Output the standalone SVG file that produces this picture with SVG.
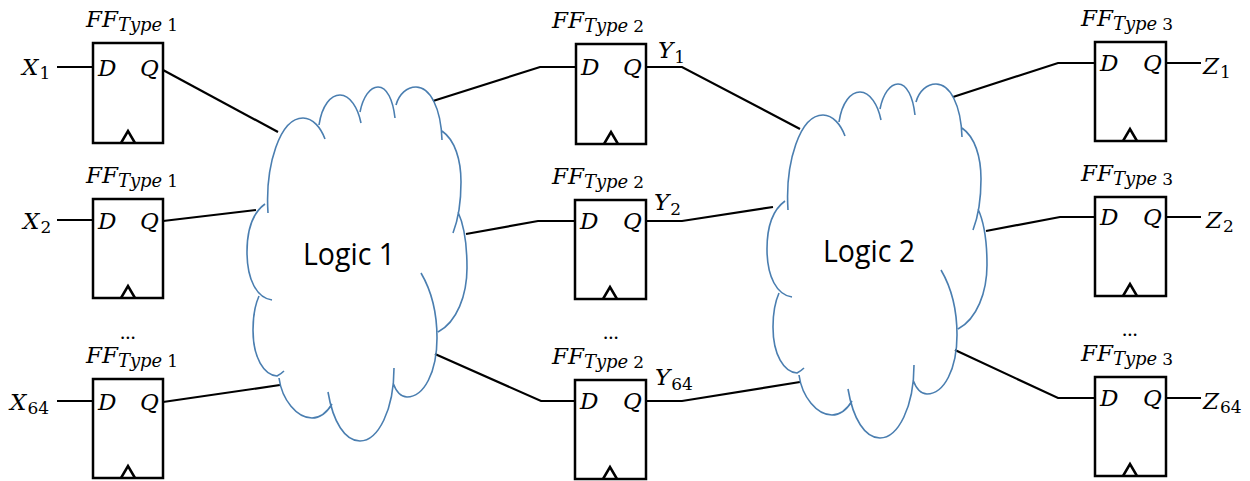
<svg xmlns="http://www.w3.org/2000/svg" xmlns:xlink="http://www.w3.org/1999/xlink" width="1250" height="481" viewBox="0 0 1250 481">
<style>
.box{fill:#fff;stroke:#000;stroke-width:2.5}
.clk{fill:none;stroke:#000;stroke-width:2.5;stroke-linejoin:miter}
.w{fill:none;stroke:#000;stroke-width:2.2}
.cloud{fill:none;stroke:#4a7eb0;stroke-width:1.6}
.m{font-family:"DejaVu Serif",serif;font-style:italic;font-size:23px;fill:#000}
.s{font-size:18px}
.n{font-style:normal;font-size:17px}
.dots{font-family:"Liberation Serif",serif;font-size:21px;fill:#000}
.lg{font-family:"Open Sans",sans-serif;font-size:31px;fill:#000}
</style>
<defs>
<path id="cloudShape" d="M268,213 C265,165 280,118 303,118 C313,118 321,128 325,139
M319,125 C322,105 331,95 340,95 C350,95 358,108 361,123
M360,112 C363,97 370,87 378,87 C387,87 393,100 395,118
M396,105 C399,94 407,87 416,87 C430,87 441,108 442,140
M442,131 C455,140 461,160 461,182 C461,203 458,220 453,233
M458,212 C464,225 467,245 467,268 C467,295 457,322 438,332
M421,273 C431,290 437,312 437,338 C437,372 424,397 407,397 C400,397 396,391 393,383
M394,368 C394,410 378,441 360,441 C345,441 333,422 328,392
M332,404 C326,414 320,418 312,418 C297,418 282,400 279,378
M259,296 C255,305 253,318 253,330 C253,358 264,375 277,376 C279,375 282,373 284,371
M265,204 C254,212 247,228 247,252 C247,280 257,298 272,300"/>
</defs>

<g id="connectors">
<path class="w" d="M57,67 H93"/>
<path class="w" d="M57,220 H93"/>
<path class="w" d="M57,401 H93"/>
<path class="w" d="M163,70 L278,132"/>
<path class="w" d="M163,221 L256,210"/>
<path class="w" d="M163,402 L280,385"/>
<path class="w" d="M433,101 L540,67 H576"/>
<path class="w" d="M466,234 L538,221 H575"/>
<path class="w" d="M435,354 L541,401 H575"/>
<path class="w" d="M646,67 H682 L800,129"/>
<path class="w" d="M646,221 H682 L773,207"/>
<path class="w" d="M646,401 H682 L800,382"/>
<path class="w" d="M953,97 L1058,63 H1095"/>
<path class="w" d="M986,231 L1060,217 H1095"/>
<path class="w" d="M955,350 L1058,398 H1095"/>
<path class="w" d="M1166,63 H1201"/>
<path class="w" d="M1166,217 H1201"/>
<path class="w" d="M1166,398 H1201"/>
</g>

<g id="logic1">
<use xlink:href="#cloudShape" class="cloud"/>
<text class="lg" x="303" y="265" textLength="92" lengthAdjust="spacingAndGlyphs">Logic 1</text>
</g>
<g id="logic2">
<use xlink:href="#cloudShape" class="cloud" transform="translate(520,-3)"/>
<text class="lg" x="823" y="262" textLength="92" lengthAdjust="spacingAndGlyphs">Logic 2</text>
</g>

<!-- Column 1 -->
<g id="ff1_1">
<rect class="box" x="93" y="43" width="70" height="100"/>
<path class="clk" d="M121,143 L128,131 L135,143"/>
<text class="m" x="98" y="76">D</text><text class="m" x="140" y="76">Q</text>
<text class="m" x="86" y="27">FF<tspan class="s" dy="4">Type</tspan><tspan class="n" dx="5">1</tspan></text>
</g>
<g id="ff1_2">
<rect class="box" x="93" y="199" width="70" height="99"/>
<path class="clk" d="M121,298 L128,286 L135,298"/>
<text class="m" x="98" y="229">D</text><text class="m" x="140" y="229">Q</text>
<text class="m" x="86" y="183">FF<tspan class="s" dy="4">Type</tspan><tspan class="n" dx="5">1</tspan></text>
</g>
<g id="ff1_3">
<rect class="box" x="93" y="379" width="70" height="99"/>
<path class="clk" d="M121,478 L128,466 L135,478"/>
<text class="m" x="98" y="410">D</text><text class="m" x="140" y="410">Q</text>
<text class="m" x="86" y="363">FF<tspan class="s" dy="4">Type</tspan><tspan class="n" dx="5">1</tspan></text>
<text class="dots" x="120" y="339">...</text>
</g>
<g id="inputs">
<text class="m" x="22" y="75">X<tspan class="n" dx="1" dy="4">1</tspan></text>
<text class="m" x="23" y="229">X<tspan class="n" dx="1" dy="4">2</tspan></text>
<text class="m" x="10" y="410">X<tspan class="n" dx="1" dy="4">64</tspan></text>
</g>

<!-- Column 2 -->
<g id="ff2_1">
<rect class="box" x="576" y="44" width="70" height="100"/>
<path class="clk" d="M604,144 L611,132 L618,144"/>
<text class="m" x="581" y="75">D</text><text class="m" x="623" y="75">Q</text>
<text class="m" x="552" y="28">FF<tspan class="s" dy="4">Type</tspan><tspan class="n" dx="5">2</tspan></text>
<text class="m" x="658" y="58">Y<tspan class="n" dx="1" dy="5">1</tspan></text>
</g>
<g id="ff2_2">
<rect class="box" x="575" y="200" width="71" height="99"/>
<path class="clk" d="M603,299 L610,287 L617,299"/>
<text class="m" x="580" y="229">D</text><text class="m" x="623" y="229">Q</text>
<text class="m" x="552" y="184">FF<tspan class="s" dy="4">Type</tspan><tspan class="n" dx="5">2</tspan></text>
<text class="m" x="654" y="210">Y<tspan class="n" dx="1" dy="5">2</tspan></text>
</g>
<g id="ff2_3">
<rect class="box" x="575" y="380" width="71" height="99"/>
<path class="clk" d="M603,479 L610,467 L617,479"/>
<text class="m" x="580" y="409">D</text><text class="m" x="623" y="409">Q</text>
<text class="m" x="552" y="364">FF<tspan class="s" dy="4">Type</tspan><tspan class="n" dx="5">2</tspan></text>
<text class="m" x="655" y="385">Y<tspan class="n" dx="1" dy="5">64</tspan></text>
<text class="dots" x="603" y="339">...</text>
</g>

<!-- Column 3 -->
<g id="ff3_1">
<rect class="box" x="1095" y="42" width="71" height="99"/>
<path class="clk" d="M1123,141 L1130,129 L1137,141"/>
<text class="m" x="1100" y="71">D</text><text class="m" x="1143" y="71">Q</text>
<text class="m" x="1081" y="26">FF<tspan class="s" dy="4">Type</tspan><tspan class="n" dx="5">3</tspan></text>
<text class="m" x="1203" y="74">Z<tspan class="n" dx="1" dy="4">1</tspan></text>
</g>
<g id="ff3_2">
<rect class="box" x="1095" y="197" width="71" height="99"/>
<path class="clk" d="M1123,296 L1130,284 L1137,296"/>
<text class="m" x="1100" y="225">D</text><text class="m" x="1143" y="225">Q</text>
<text class="m" x="1081" y="181">FF<tspan class="s" dy="4">Type</tspan><tspan class="n" dx="5">3</tspan></text>
<text class="m" x="1206" y="228">Z<tspan class="n" dx="1" dy="4">2</tspan></text>
</g>
<g id="ff3_3">
<rect class="box" x="1095" y="377" width="71" height="99"/>
<path class="clk" d="M1123,476 L1130,464 L1137,476"/>
<text class="m" x="1100" y="406">D</text><text class="m" x="1143" y="406">Q</text>
<text class="m" x="1081" y="361">FF<tspan class="s" dy="4">Type</tspan><tspan class="n" dx="5">3</tspan></text>
<text class="m" x="1203" y="409">Z<tspan class="n" dx="1" dy="4">64</tspan></text>
<text class="dots" x="1122" y="336">...</text>
</g>
</svg>
